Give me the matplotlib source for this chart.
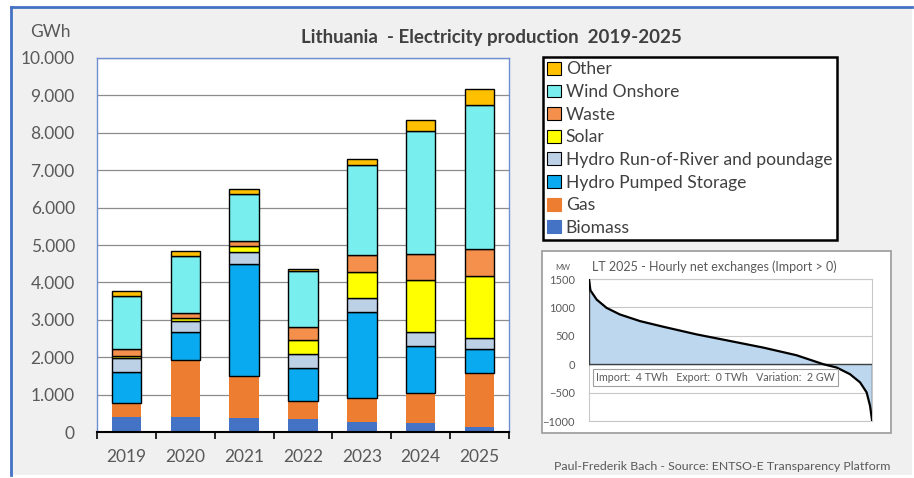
import numpy as np
import matplotlib.pyplot as plt
from matplotlib.patches import Rectangle, Patch

plt.rcParams['font.family'] = ['Lato', 'DejaVu Sans']

years = ['2019', '2020', '2021', '2022', '2023', '2024', '2025']

# GWh per source, bottom to top
biomass = [400, 400, 374, 347, 267, 240, 151]
gas = [390, 1523, 1140, 499, 641, 802, 1434]
pumped = [830, 766, 2992, 864, 2298, 1255, 632]
ror = [355, 285, 311, 391, 383, 392, 312]
solar = [70, 71, 152, 375, 685, 1389, 1638]
waste = [170, 143, 142, 347, 446, 695, 739]
wind = [1425, 1514, 1242, 1487, 2415, 3279, 3823]
other = [140, 133, 150, 62, 152, 275, 444]

series = [
    ('Biomass', biomass, '#4472C4', False),
    ('Gas', gas, '#ED7D31', False),
    ('Hydro Pumped Storage', pumped, '#0AAAF0', True),
    ('Hydro Run-of-River and poundage', ror, '#BCD0E6', True),
    ('Solar', solar, '#FFFF00', True),
    ('Waste', waste, '#F4904C', True),
    ('Wind Onshore', wind, '#78EEEE', True),
    ('Other', other, '#FFC000', True),
]

# inset: hourly net exchange duration curve, share of year (%) and MW
dur_pct = [0, 0.5, 2.7, 6.2, 10.9, 18.0, 26.2, 38.0, 49.8, 61.6, 73.3, 82.8, 87.5, 92.2, 95.8, 98.1, 99.3, 100]
dur_mw = [1480, 1300, 1138, 992, 876, 759, 660, 525, 409, 292, 158, 0, -58, -175, -321, -496, -730, -980]

W, H = 914, 478
fig = plt.figure(figsize=(W / 100, H / 100), dpi=100, facecolor='white')

# background panel with blue frame on left/top
fig.patches.append(Rectangle((11 / W, 1 - 475 / H), (912 - 11) / W, (475 - 7) / H,
                             transform=fig.transFigure, facecolor='#F0F0F0',
                             edgecolor='none', zorder=-2))
fig.add_artist(plt.Line2D([11 / W, 11 / W], [1 - 475 / H, 1 - 7 / H], color='#4472C4', lw=2, zorder=-1))
fig.add_artist(plt.Line2D([11 / W, 912 / W], [1 - 7 / H, 1 - 7 / H], color='#4472C4', lw=2, zorder=-1))

ax = fig.add_axes([97 / W, 1 - 432.3 / H, 412 / W, (432.3 - 57.7) / H])
ax.set_zorder(2)
ax.set_facecolor('white')
x = np.arange(len(years))
bottom = np.zeros(len(years))
handles = []
for name, vals, col, edge in series:
    ax.bar(x, vals, 0.5, bottom=bottom, color=col,
           edgecolor='black' if edge else col, linewidth=1.0 if edge else 0, zorder=3)
    bottom += np.array(vals)
    handles.append(Patch(facecolor=col, edgecolor='black' if edge else col,
                         linewidth=0.8, label=name))

ax.set_xlim(-0.5, 6.5)
ax.set_ylim(0, 10000)
ax.set_yticks(range(0, 10001, 1000))
ax.set_yticklabels(['0'] + ['{:,}'.format(v).replace(',', '.') for v in range(1000, 10001, 1000)])
ax.grid(axis='y', color='#8C8C8C', lw=0.9, zorder=0)
ax.set_xticks(x)
ax.set_xticklabels(years)
ax.set_xticks(np.arange(-0.5, 7, 1), minor=True)
ax.tick_params(axis='x', which='major', length=0, pad=12, labelsize=12.5, labelcolor='#595959')
ax.tick_params(axis='x', which='minor', length=5, width=1.2, direction='out', color='black')
ax.tick_params(axis='y', length=0, pad=16, labelsize=12.5, labelcolor='#595959')
for s in ['left', 'right', 'top']:
    ax.spines[s].set_color('#6F8FD0')
    ax.spines[s].set_linewidth(1.0)
ax.spines['bottom'].set_color('black')
ax.spines['bottom'].set_linewidth(1.5)
ax.spines['bottom'].set_zorder(5)

fig.text(30 / W, 1 - 32 / H, 'GWh', fontsize=12.5, color='#595959', va='center')
fig.text(491 / W, 1 - 38 / H, 'Lithuania  - Electricity production  2019-2025',
         fontsize=13.5, fontweight='bold', color='#404040', ha='center', va='center')

leg = fig.legend(handles=handles[::-1], loc='upper left',
                 bbox_to_anchor=(543 / W, 1 - 57 / H), fontsize=12.6,
                 frameon=True, fancybox=False, framealpha=1, edgecolor='black',
                 handlelength=0.75, handleheight=0.75, handletextpad=0.3,
                 labelspacing=0.38, borderpad=0.25, borderaxespad=0,
                 labelcolor='#404040')
leg.get_frame().set_linewidth(1.8)

# inset frame
fig.patches.append(Rectangle((542 / W, 1 - 433 / H), (891 - 542) / W, (433 - 251) / H,
                             transform=fig.transFigure, facecolor='white',
                             edgecolor='#9A9A9A', lw=1.2, zorder=1))
ax2 = fig.add_axes([589 / W, 1 - 421 / H, (872 - 589) / W, (421 - 279) / H])
ax2.set_zorder(3)
ax2.set_facecolor('white')
ax2.fill_between(dur_pct, dur_mw, 0, color='#BDD7EE', zorder=2)
ax2.plot(dur_pct, dur_mw, color='black', lw=1.6, zorder=4)
ax2.axhline(0, color='#404040', lw=1.0, zorder=3)
ax2.plot([0, 0], [0, 1500], color='#404040', lw=1.0, zorder=3)
ax2.plot([100, 100], [-980, 0], color='#404040', lw=1.0, zorder=3)
ax2.set_xlim(0, 100)
ax2.set_ylim(-1000, 1500)
ax2.set_yticks(range(-1000, 1501, 500))
ax2.set_xticks([])
ax2.grid(axis='y', color='#C8C8C8', lw=0.8, zorder=0)
ax2.tick_params(axis='y', length=0, pad=10, labelsize=8, labelcolor='#595959')
for s in ax2.spines.values():
    s.set_color('#C8C8C8')
    s.set_linewidth(0.8)
fig.text(555 / W, 1 - 267 / H, 'MW', fontsize=5.5, color='#595959', va='center')
fig.text(592 / W, 1 - 267 / H, 'LT 2025 - Hourly net exchanges (Import > 0)',
         fontsize=9, color='#595959', va='center')
ax2.text(2.5, -235, 'Import:  4 TWh   Export:  0 TWh   Variation:  2 GW', fontsize=7.7,
         color='#595959', va='center', ha='left', zorder=5,
         bbox=dict(boxstyle='square,pad=0.3', facecolor='white', edgecolor='#A0A0A0', lw=0.8))

fig.text(722 / W, 1 - 467 / H, 'Paul-Frederik Bach - Source: ENTSO-E Transparency Platform',
         fontsize=8.9, color='#595959', ha='center', va='center')

fig.savefig('out.png', dpi=100, facecolor='white')
